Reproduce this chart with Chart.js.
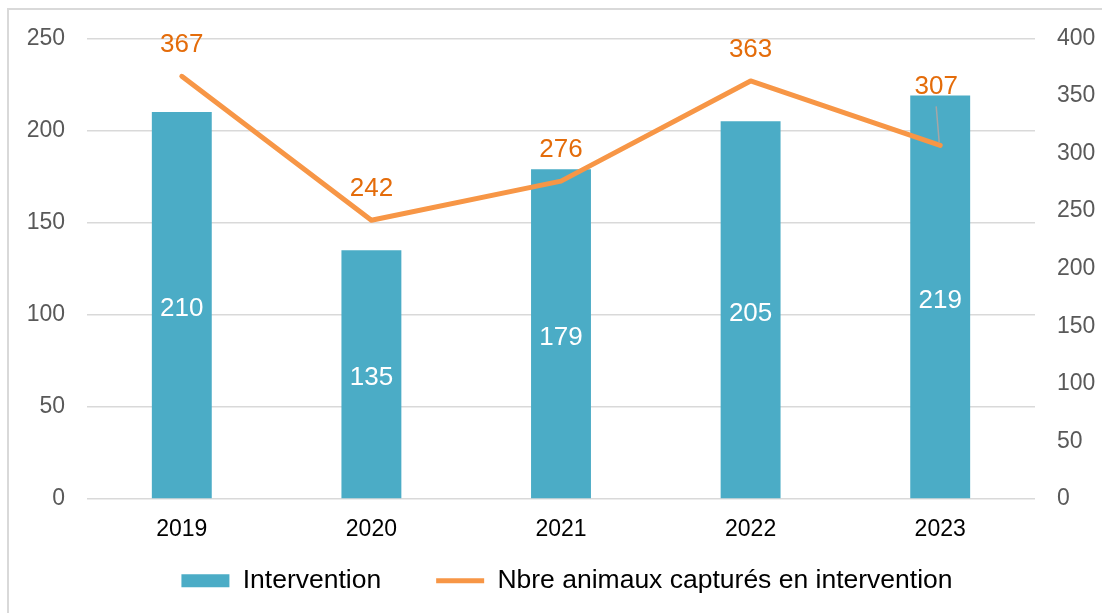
<!DOCTYPE html>
<html>
<head>
<meta charset="utf-8">
<script src="https://cdn.jsdelivr.net/npm/chart.js@4"></script>
<style>
  body { margin: 0; background: #fff; }
  #wrap { position: relative; width: 1102px; height: 613px; overflow: hidden; }
  #frame { position: absolute; left: 7px; top: 8px; width: 1200px; height: 700px;
           border-left: 2px solid #d9d9d9; border-top: 2px solid #d9d9d9; }
  canvas { position: absolute; left: 0; top: 0; }
</style>
</head>
<body>
<div id="wrap">
  <div id="frame"></div>
  <canvas id="chart" width="1102" height="613"></canvas>
</div>
<script>
// data
const years = ["2019", "2020", "2021", "2022", "2023"];
const interventions = [210, 135, 179, 205, 219];
const animaux = [367, 242, 276, 363, 307];
const leftTicks = [0, 50, 100, 150, 200, 250];
const rightTicks = [0, 50, 100, 150, 200, 250, 300, 350, 400];

const FONT = "'Liberation Sans', Arial, sans-serif";

// value labels: white in the bars, orange above the line
const valueLabels = {
  id: "valueLabels",
  afterDatasetsDraw(chart) {
    const ctx = chart.ctx;
    ctx.save();
    ctx.font = "26px " + FONT;
    ctx.textAlign = "center";
    ctx.textBaseline = "middle";

    const bars = chart.getDatasetMeta(0);
    bars.data.forEach((el, i) => {
      ctx.fillStyle = "#ffffff";
      ctx.fillText(String(interventions[i]), el.x, (el.y + el.base) / 2 + 4);
    });

    const line = chart.getDatasetMeta(1);
    line.data.forEach((el, i) => {
      let lx = el.x, ly = el.y - 31;
      if (i === line.data.length - 1) {
        // last label sits higher with a leader line
        lx = el.x - 4;
        ly = el.y - 59;
        ctx.strokeStyle = "#a6a6a6";
        ctx.lineWidth = 1.5;
        ctx.beginPath();
        ctx.moveTo(lx, ly + 20);
        ctx.lineTo(el.x - 1, el.y - 3);
        ctx.stroke();
      }
      ctx.fillStyle = "#e46c0a";
      ctx.fillText(String(animaux[i]), lx, ly);
    });
    ctx.restore();
  }
};

new Chart(document.getElementById("chart"), {
  data: {
    labels: years,
    datasets: [
      {
        type: "bar",
        label: "Intervention",
        data: interventions,
        yAxisID: "y",
        backgroundColor: "#4bacc6",
        borderWidth: 0,
        barPercentage: 0.316,
        categoryPercentage: 1,
        pointStyle: "rect",
        order: 1
      },
      {
        type: "line",
        label: "Nbre animaux capturés en intervention",
        data: animaux,
        yAxisID: "y1",
        borderColor: "#f79646",
        backgroundColor: "#f79646",
        borderWidth: 5,
        borderJoinStyle: "round",
        borderCapStyle: "round",
        pointRadius: 0,
        pointStyle: "line",
        tension: 0,
        order: 0
      }
    ]
  },
  options: {
    responsive: false,
    animation: false,
    layout: { padding: { top: 38.3, left: 10, right: -22, bottom: 9 } },
    plugins: {
      tooltip: { enabled: false },
      legend: {
        position: "bottom",
        labels: {
          usePointStyle: true,
          pointStyleWidth: 48,
          boxHeight: 13,
          padding: 55,
          color: "#000000",
          font: { family: FONT, size: 26.5 },
          sort: (a, b) => a.datasetIndex - b.datasetIndex
        }
      }
    },
    scales: {
      x: {
        type: "category",
        offset: true,
        grid: { display: false, drawTicks: false },
        border: { display: false },
        ticks: { color: "#000000", padding: 17, font: { family: FONT, size: 23 } },
        afterFit(scale) {
          scale.height = 13.5;
          // box is kept short for the legend; don't clip the year labels to it
          scale._computeLabelArea = () => undefined;
        }
      },
      y: {
        position: "left",
        min: 0,
        max: 250,
        afterBuildTicks(scale) { scale.ticks = leftTicks.map(v => ({ value: v })); },
        grid: { color: "#d9d9d9", lineWidth: 1.5, drawTicks: false },
        border: { display: false },
        ticks: { color: "#595959", padding: 22, font: { family: FONT, size: 23 } },
        afterFit(scale) { scale.width = 77; }
      },
      y1: {
        position: "right",
        min: 0,
        max: 400,
        afterBuildTicks(scale) { scale.ticks = rightTicks.map(v => ({ value: v })); },
        grid: { display: false, drawTicks: false },
        border: { display: false },
        ticks: { color: "#595959", padding: 22, font: { family: FONT, size: 23 } },
        afterFit(scale) { scale.width = 89; }
      }
    }
  },
  plugins: [valueLabels]
});
</script>
</body>
</html>
